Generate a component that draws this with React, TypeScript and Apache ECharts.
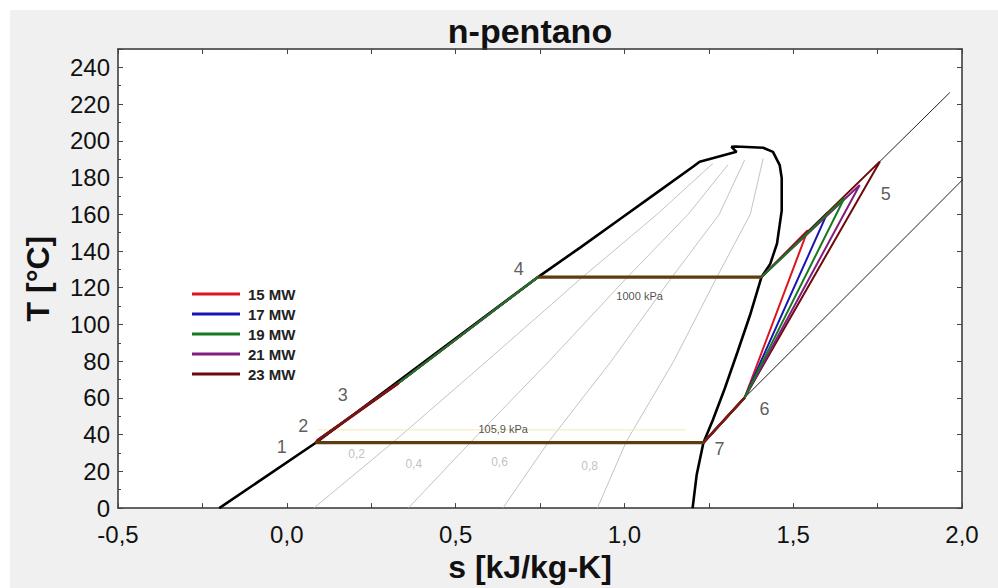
import React, { useEffect, useRef } from "react";
import * as echarts from "echarts";

// Saturation dome (liquid branch up to critical point, then vapour branch down)
const saturationCurve: [number, number][] = [
  [-0.2, 0], [0.086, 35.6], [0.744, 125.8], [0.87, 142], [0.98, 156.5], [1.09, 171], [1.204, 186],
  [1.223, 188.6], [1.332, 194.0], [1.317, 196.7], [1.33, 196.9], [1.411, 196.2], [1.44, 194.0],
  [1.46, 186.8], [1.466, 179.7], [1.466, 162], [1.452, 144], [1.432, 133], [1.406, 125.8], [1.372, 105],
  [1.335, 85], [1.297, 65], [1.262, 48], [1.234, 35.6], [1.214, 18], [1.202, 0],
];

// Constant quality lines
const qualityNames = ["0,2", "0,4", "0,6", "0,8"];
const quality02: [number, number][] = [[0.08, 0], [0.316, 36], [0.592, 80], [0.876, 125.8], [1.097, 160], [1.262, 187.7]];
const quality04: [number, number][] = [[0.36, 0], [0.545, 36], [0.777, 80], [1.009, 125.8], [1.189, 160], [1.307, 187]];
const quality06: [number, number][] = [[0.64, 0], [0.775, 36], [0.961, 80], [1.141, 125.8], [1.281, 160], [1.356, 189.5]];
const quality08: [number, number][] = [[0.92, 0], [1.005, 36], [1.146, 80], [1.274, 125.8], [1.373, 160], [1.411, 190.4]];
const qualityLabelS = [0.207, 0.376, 0.63, 0.897];
const qualityLabelT = [29.7, 23.8, 24.9, 22.8];

// Isobars in the superheated region
const isobarHigh: [number, number][] = [[1.406, 125.8], [1.757, 188.8], [1.964, 226.3]];
const isobarLow: [number, number][] = [[1.234, 35.6], [1.356, 60.1], [1.875, 155.4], [2.03, 184]];
const isobarLabels = ["1000 kPa", "105,9 kPa"];
const isobarLabelS = [1.045, 0.641];
const isobarLabelT = [115.4, 42.9];
const faintLine: [number, number][] = [[0.092, 42.6], [1.182, 42.6]];

// ORC cycles
const powerLabels = ["15 MW", "17 MW", "19 MW", "21 MW", "23 MW"];
const powerColors = ["#dc141e", "#1616b4", "#157a1e", "#821e82", "#6e0a0a"];
const turbineInletS = [1.543, 1.602, 1.652, 1.697, 1.757];
const turbineInletT = [151.3, 161.0, 169.0, 175.9, 188.8];
// states 1, 2, 3, 4, end of evaporation
const stateS = [0.086, 0.092, 0.33, 0.744, 1.406];
const stateT = [35.6, 37, 68, 125.8, 125.8];
// states 6, 7
const outletS = [1.356, 1.234];
const outletT = [60.1, 35.6];

const stateLabels = ["1", "2", "3", "4", "5", "6", "7"];
const stateLabelS = [-0.015, 0.049, 0.166, 0.687, 1.774, 1.415, 1.282];
const stateLabelT = [33.5, 44.5, 61.5, 130.4, 171.1, 53.8, 32];

const FONT = '"Liberation Sans", Arial, sans-serif';

function cycleData(i: number): [number, number][] {
  return [
    [stateS[0], stateT[0]],
    [stateS[1], stateT[1]],
    [stateS[2], stateT[2]],
    [stateS[3], stateT[3]],
    [stateS[4], stateT[4]],
    [turbineInletS[i], turbineInletT[i]],
    [outletS[0], outletT[0]],
    [outletS[1], outletT[1]],
    [stateS[0], stateT[0]],
  ];
}

export default function App() {
  const ref = useRef<HTMLDivElement>(null);
  useEffect(() => {
    document.body.style.margin = "0";
    if (!ref.current) return;
    const chart = echarts.init(ref.current, null, { renderer: "svg" });
    const line = (name: string, data: any[], color: string, width: number, z = 2) => ({
      name, type: "line", data, symbol: "none", z, animation: false,
      lineStyle: { color, width }, itemStyle: { color },
    });
    const textLayer = (names: string[], s: number[], t: number[], fontSize: number, color: string) => ({
      type: "scatter", z: 6, symbolSize: 1, silent: true,
      itemStyle: { color: "rgba(0,0,0,0)" },
      data: names.map((n, i) => ({ name: n, value: [s[i], t[i]] })),
      label: { show: true, position: "inside", formatter: "{b}", fontSize, color, fontFamily: FONT },
    });
    const drawOrder = [0, 1, 4, 3, 2];
    const series: any[] = [
      line("q02", quality02, "#b4b4b4", 0.8, 1),
      line("q04", quality04, "#b4b4b4", 0.8, 1),
      line("q06", quality06, "#b4b4b4", 0.8, 1),
      line("q08", quality08, "#b4b4b4", 0.8, 1),
      line("isoH", isobarHigh, "#222", 1, 1),
      line("isoL", isobarLow, "#222", 1, 1),
      line("faint", faintLine, "#f0ecb0", 1, 1),
      line("sat", saturationCurve, "#000", 2.6, 2),
      ...drawOrder.map((i) => line(powerLabels[i], cycleData(i), powerColors[i], 2, 3)),
      line("shared123", [[stateS[0], stateT[0]], [stateS[1], stateT[1]], [stateS[2], stateT[2]]], "#7a1414", 3, 4),
      line("shared67", [[outletS[0], outletT[0]], [outletS[1], outletT[1]]], "#7a1a10", 2.6, 4),
      line("sharedEvap", [[stateS[3], stateT[3]], [stateS[4], stateT[4]]], "#5e3c0c", 3.2, 4),
      line("sharedCond", [[outletS[1], outletT[1]], [stateS[0], stateT[0]]], "#5e3c0c", 3.2, 4),
      textLayer(stateLabels, stateLabelS, stateLabelT, 18, "#333"),
      textLayer(qualityNames, qualityLabelS, qualityLabelT, 12, "#b0b0b0"),
      textLayer(isobarLabels, isobarLabelS, isobarLabelT, 11, "#222"),
    ];
    const axisLine = { onZero: false, lineStyle: { color: "#333", width: 1.5 } };
    const tick = { inside: true, length: 5, lineStyle: { color: "#444" } };
    chart.setOption({
      animation: false,
      backgroundColor: "#f0f0f0",
      grid: { left: 108, top: 39, right: 36, bottom: 73, show: true, backgroundColor: "#fff", borderWidth: 0 },
      legend: {
        data: powerLabels, orient: "vertical", left: 177, top: 271, icon: "rect",
        itemWidth: 48, itemHeight: 3, itemGap: 4,
        textStyle: { fontSize: 15, fontWeight: "bold", color: "#222", fontFamily: FONT, lineHeight: 16, padding: [0, 0, 0, 3] },
      },
      graphic: [
        { type: "text", x: 520, y: 21, style: { text: "n-pentano", fontSize: 34, fontWeight: "bold", fontFamily: FONT, fill: "#111", align: "center", verticalAlign: "middle" } },
      ],
      xAxis: [
        {
          type: "value", min: -0.5, max: 2.0, interval: 0.25, position: "bottom",
          axisLine, axisTick: tick, splitLine: { show: false },
          axisLabel: {
            fontSize: 24, color: "#111", fontFamily: FONT, margin: 14,
            formatter: (v: number) => (Math.abs(v * 2 - Math.round(v * 2)) < 1e-6 ? v.toFixed(1).replace(".", ",") : ""),
          },
          name: "s [kJ/kg-K]", nameLocation: "middle", nameGap: 41,
          nameTextStyle: { fontSize: 32, fontWeight: "bold", color: "#111", fontFamily: FONT, padding: [0, 20, 0, 0] },
        },
        {
          type: "value", min: -0.5, max: 2.0, interval: 0.25, position: "top",
          axisLine, axisTick: tick, splitLine: { show: false }, axisLabel: { show: false },
        },
      ],
      yAxis: [
        {
          type: "value", min: 0, max: 250, interval: 20, position: "left",
          axisLine, axisTick: tick, minorTick: { show: true, splitNumber: 2, length: 3, lineStyle: { color: "#444" } },
          splitLine: { show: false },
          axisLabel: { fontSize: 24, color: "#111", fontFamily: FONT, margin: 8, showMaxLabel: false },
          name: "T [°C]", nameLocation: "middle", nameGap: 64, nameRotate: 90,
          nameTextStyle: { fontSize: 32, fontWeight: "bold", color: "#111", fontFamily: FONT },
        },
        {
          type: "value", min: 0, max: 250, interval: 20, position: "right",
          axisLine, axisTick: tick, splitLine: { show: false }, axisLabel: { show: false },
        },
      ],
      series,
    });
    return () => chart.dispose();
  }, []);
  return (
    <div style={{ width: 998, height: 588, background: "#fff", position: "relative" }}>
      <div ref={ref} style={{ position: "absolute", left: 10, top: 10, width: 988, height: 578 }} />
    </div>
  );
}
